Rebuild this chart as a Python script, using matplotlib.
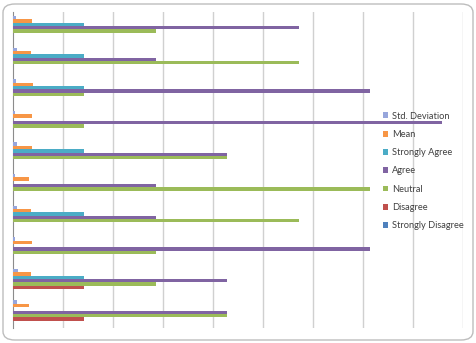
import numpy as np
import matplotlib
matplotlib.use("Agg")
import matplotlib.pyplot as plt
from matplotlib.patches import FancyBboxPatch

# items listed top to bottom as in the picture
items = ["Q1", "Q2", "Q3", "Q4", "Q5", "Q6", "Q7", "Q8", "Q9", "Q10"]

series = ["Std. Deviation", "Mean", "Strongly Agree", "Agree",
          "Neutral", "Disagree", "Strongly Disagree"]

std_dev = [0.69, 0.79, 0.58, 0.38, 0.76, 0.49, 0.79, 0.49, 0.98, 0.76]
mean = [3.86, 3.57, 4.00, 3.86, 3.71, 3.29, 3.57, 3.71, 3.57, 3.29]
strongly_agree = [14.29, 14.29, 14.29, 0, 14.29, 0, 14.29, 0, 14.29, 0]
agree = [57.14, 28.57, 71.43, 85.71, 42.86, 28.57, 28.57, 71.43, 42.86, 42.86]
neutral = [28.57, 57.14, 14.29, 14.29, 42.86, 71.43, 57.14, 28.57, 28.57, 42.86]
disagree = [0, 0, 0, 0, 0, 0, 0, 0, 14.29, 14.29]
strongly_disagree = [0, 0, 0, 0, 0, 0, 0, 0, 0, 0]

values = [std_dev, mean, strongly_agree, agree, neutral, disagree, strongly_disagree]
colors = ["#97A6DC", "#F79646", "#4BACC6", "#8064A2", "#9BBB59", "#C0504D", "#4F81BD"]

fig = plt.figure(figsize=(4.76, 3.43), dpi=100)
fig.patch.set_facecolor("white")

# rounded chart border
border = FancyBboxPatch((3 / 476, 3 / 343), 470 / 476, 336 / 343,
                        boxstyle="round,pad=0,rounding_size=0.025",
                        transform=fig.transFigure, facecolor="none",
                        edgecolor="#BDBDBD", linewidth=1.0, zorder=0)
fig.patches.append(border)

ax = fig.add_axes([13 / 476, 15 / 343, 450 / 476, 316 / 343])
ax.set_facecolor("none")

y = np.arange(len(items))
h = 0.107
for k, (name, vals, col) in enumerate(zip(series, values, colors)):
    offs = (k - 3) * h
    ax.barh(y + offs, vals, height=h, color=col, label=name, zorder=3)

ax.set_xlim(0, 90)
ax.set_ylim(len(items) - 0.5, -0.5)
ax.set_xticks(np.arange(10, 91, 10))
ax.set_yticks([])
ax.tick_params(axis="x", length=0, labelbottom=False)
ax.grid(axis="x", color="#D0D0D0", linewidth=1.0, zorder=0)
for s in ["top", "right", "bottom"]:
    ax.spines[s].set_visible(False)
ax.spines["left"].set_color("#8C8C8C")
ax.spines["left"].set_linewidth(0.8)

leg = ax.legend(loc="center left", bbox_to_anchor=(0.822, 0.497), frameon=False,
                handlelength=0.6, handleheight=0.6, borderpad=0,
                handletextpad=0.35, labelspacing=1.0, borderaxespad=0,
                prop={"family": "Lato", "size": 6.7})
for t in leg.get_texts():
    t.set_color("#404040")

fig.savefig("out.png", dpi=100)
